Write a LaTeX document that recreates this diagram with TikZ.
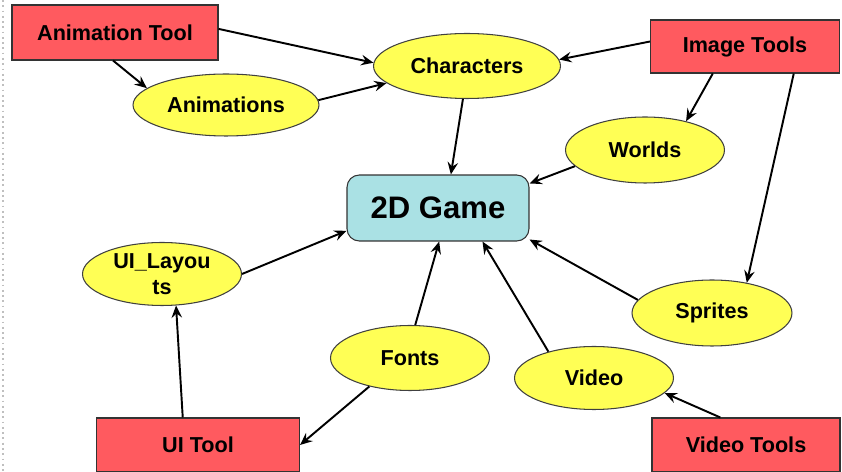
\documentclass[tikz,border=0pt]{standalone}
\usepackage{fontspec}
\setmainfont{Liberation Sans}
\usetikzlibrary{shapes.geometric,arrows.meta}
\definecolor{toolred}{RGB}{255,90,95}
\definecolor{topicyel}{RGB}{255,255,85}
\definecolor{gamecyan}{RGB}{170,225,228}
\begin{document}
\begin{tikzpicture}[x=0.02cm, y=-0.02cm,
    txt/.style={font=\fontsize{12.3}{14.8}\selectfont\bfseries, text=black},
    tool/.style={txt, rectangle, draw=black!80, line width=0.6pt, fill=toolred, inner sep=0pt},
    topic/.style={txt, ellipse, draw=black!75, line width=0.6pt, fill=topicyel, inner sep=0pt, minimum width=3.18cm, minimum height=1.28cm},
    arr/.style={-{Stealth[length=7pt, width=6pt, inset=2.5pt]}, line width=1.1pt}]
		\useasboundingbox (0,0) rectangle (842,472);
		\draw[black!25, dotted, line width=1pt] (3,0) -- (3,472);
		% tools
		\node[tool, minimum width=4.12cm, minimum height=1.1cm] (at) at (115,32.5) {Animation Tool};
		\node[tool, minimum width=3.78cm, minimum height=1.06cm] (it) at (745,46.5) {Image Tools};
		\node[tool, minimum width=4.06cm, minimum height=1.08cm] (uit) at (198,445) {UI Tool};
		\node[tool, minimum width=3.76cm, minimum height=1.08cm] (vt) at (746,445) {Video Tools};
		% topics
		\node[topic, minimum width=3.74cm, minimum height=1.3cm] (chars) at (467,66) {Characters};
		\node[topic, minimum width=3.72cm, minimum height=1.24cm] (anims) at (226,105) {Animations};
		\node[topic, minimum height=1.32cm] (worlds) at (645,150) {Worlds};
		\node[topic, minimum height=1.26cm, align=center] (uil) at (162,274) {UI\_Layou\\ts};
		\node[topic, minimum height=1.3cm] (fonts) at (410,358) {Fonts};
		\node[topic, minimum height=1.26cm] (video) at (594,378) {Video};
		\node[topic, minimum width=3.2cm, minimum height=1.32cm] (sprites) at (712,313) {Sprites};
		\node[rectangle, rounded corners=7pt, draw=black!80, line width=0.6pt, fill=gamecyan,
		      minimum width=3.64cm, minimum height=1.32cm, font=\fontsize{17.7}{20}\selectfont\bfseries] (game) at (438,208) {2D Game};
		% links
		\draw[arr] (at.2.5) -- (chars.178);
		\draw[arr] (at.-94) -- (anims.168.5);
		\draw[arr] (anims.3) -- (chars.192);
		\draw[arr] (it.177) -- (chars.4.7);
		\draw[arr] (it.-140) -- (worlds.35);
		\draw[arr] (it.-29.4) -- (sprites.41.5);
		\draw[arr] (chars.-97) -- (game.69.6);
		\draw[arr] (worlds.193) -- (game.15);
		\draw[arr] (uil.east) -- (game.194.5);
		\draw[arr] (uit.119.4) -- (uil.-66.4);
		\draw[arr] (fonts.215.5) -- (uit.east);
		\draw[arr] (fonts.81.4) -- (game.-88);
		\draw[arr] (video.150.3) -- (game.-37);
		\draw[arr] (sprites.170) -- (game.-19.6);
		\draw[arr] (vt.133) -- (video.-12.6);
	\end{tikzpicture}
\end{document}
